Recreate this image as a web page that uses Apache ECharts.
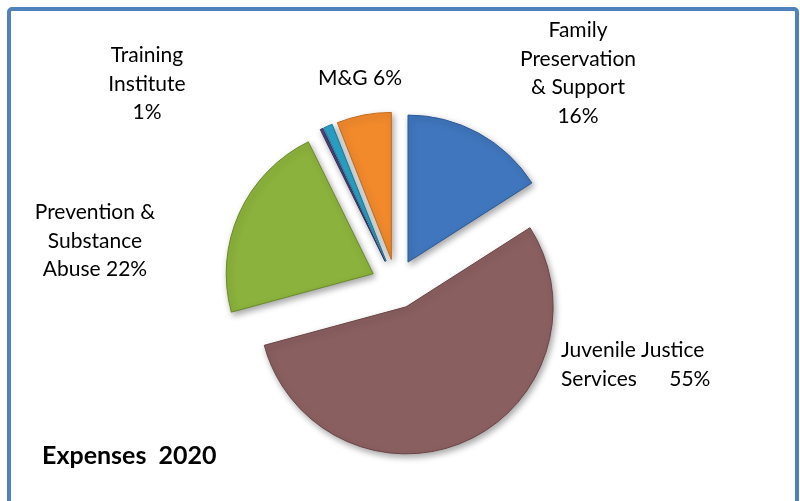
<!DOCTYPE html>
<html>
<head>
<meta charset="utf-8">
<script src="https://cdn.jsdelivr.net/npm/echarts@6/dist/echarts.min.js"></script>
<style>
html,body{margin:0;padding:0;background:#fff;}
#chart{width:800px;height:501px;}
</style>
</head>
<body>
<div id="chart"></div>
<script>
// Data
var categories = ["Family Preservation & Support", "Juvenile Justice Services", "Prevention & Substance Abuse", "Other", "Training Institute", "M&G"];
var values = [16, 55, 22, 0.3, 1, 6];
var labelTexts = ["Family\nPreservation\n& Support\n16%", "Juvenile Justice\nServices      55%", "Prevention &\nSubstance\nAbuse 22%", "", "Training\nInstitute\n1%", "M&G 6%"];
var titleText = "Expenses  2020";

// Styles
var colors = ["#3f76bd", "#8a5f60", "#8bb23c", "#5b4a8a", "#2aa3c9", "#f28a2c"];
var borders = ["#2c5a94", "#6a4546", "#6a8a28", "#3f3266", "#1b7d9c", "#c46a18"];
var labelPos = [
  {x: 578, y: 16, align: "center"},
  {x: 561, y: 336, align: "left"},
  {x: 95, y: 198, align: "center"},
  {x: 0, y: 0, align: "center"},
  {x: 147, y: 41, align: "center"},
  {x: 360, y: 64, align: "center"}
];

var chart = echarts.init(document.getElementById("chart"));
var FONT = "Lato, 'Open Sans', sans-serif";

var dataItems = categories.map(function (c, i) {
  return {
    name: c,
    value: values[i],
    selected: true,
    itemStyle: {
      color: colors[i],
      borderColor: borders[i],
      borderWidth: 1
    }
  };
});

var graphics = [{
  type: "rect",
  shape: {x: 9, y: 9, width: 788, height: 510, r: 3},
  style: {fill: "none", stroke: "#4f81bd", lineWidth: 4},
  z: 100
}];
labelTexts.forEach(function (t, i) {
  if (!t) return;
  var lp = labelPos[i];
  graphics.push({
    type: "text",
    x: lp.x,
    y: lp.y,
    z: 50,
    style: {
      text: t,
      fontFamily: "Lato",
      fontSize: 21,
      lineHeight: 28.5,
      fill: "#000",
      align: lp.align,
      textAlign: lp.align,
      verticalAlign: "top",
      textVerticalAlign: "top"
    }
  });
});

chart.setOption({
  animation: false,
  backgroundColor: "#ffffff",
  title: {
    text: titleText,
    left: 37,
    top: 438,
    textStyle: {fontFamily: FONT, fontWeight: "bold", fontSize: 25, color: "#000"}
  },
  graphic: graphics,
  series: [{
    type: "pie",
    center: [396, 284],
    radius: [0, 147],
    startAngle: 90,
    clockwise: true,
    selectedMode: "multiple",
    selectedOffset: 25,
    avoidLabelOverlap: false,
    emphasis: {disabled: true},
    itemStyle: {
      shadowBlur: 6,
      shadowColor: "rgba(0,0,0,0.35)",
      shadowOffsetX: 2,
      shadowOffsetY: 3
    },
    label: {show: false},
    labelLine: {show: false},
    data: dataItems
  }]
});
</script>
</body>
</html>
